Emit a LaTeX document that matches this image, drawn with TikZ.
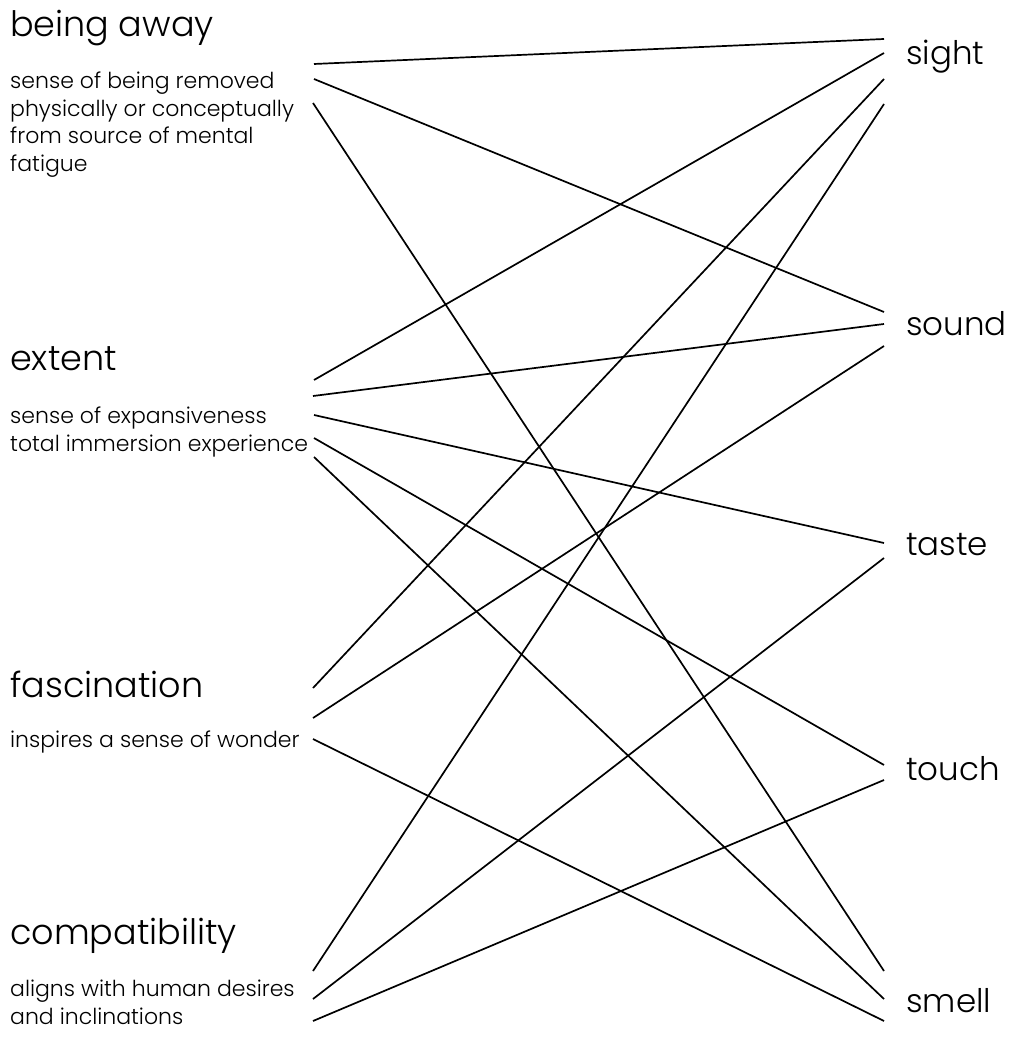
\documentclass[tikz,border=0pt]{standalone}
\usepackage{fontspec}
\setmainfont{Poppins}[UprightFont={* Light}]
\begin{document}
\begin{tikzpicture}[x=1pt,y=-1pt]

\tikzset{head/.style={anchor=base west,inner sep=0pt,font=\fontsize{35}{40}\selectfont},
    desc/.style={anchor=north west,inner sep=0pt,align=left,font=\fontsize{22}{27.5}\selectfont},
    sense/.style={anchor=base west,inner sep=0pt,font=\fontsize{32.5}{36}\selectfont},
    link/.style={black,line width=1.7pt}}

\useasboundingbox (0,0) rectangle (1009,1040);

\path (10,37) node[head] (away) {being away};
\path (10,72) node[desc] (awaytxt) {sense of being removed\\physically or conceptually\\from source of mental\\fatigue};

\path (10,370) node[head] (extent) {extent};
\path (10,407) node[desc] (extenttxt) {sense of expansiveness\\total immersion experience};

\path (10,697) node[head] (fasc) {fascination};
\path (10,731) node[desc] (fasctxt) {inspires a sense of wonder};

\path (10,944) node[head] (compat) {compatibility};
\path (10,980) node[desc] (compattxt) {aligns with human desires\\and inclinations};

\path (906,65) node[sense] (sight) {sight};
\path (906,335) node[sense] (sound) {sound};
\path (906,555) node[sense] (taste) {taste};
\path (906,780) node[sense] (touch) {touch};
\path (906,1012) node[sense] (smell) {smell};

\coordinate (a1) at (314,64);
\coordinate (a2) at (314,79);
\coordinate (a3) at (313,103);
\coordinate (e1) at (314,380);
\coordinate (e2) at (313,396);
\coordinate (e3) at (314,415);
\coordinate (e4) at (314,438);
\coordinate (e5) at (314,457);
\coordinate (f1) at (313,688);
\coordinate (f2) at (313,718);
\coordinate (f3) at (313,739);
\coordinate (c1) at (313,971);
\coordinate (c2) at (313,999);
\coordinate (c3) at (313,1021);

\coordinate (si1) at (884,39);
\coordinate (si2) at (884,53);
\coordinate (si3) at (884,79);
\coordinate (si4) at (884,104);
\coordinate (so1) at (884,312);
\coordinate (so2) at (884,324);
\coordinate (so3) at (884,346);
\coordinate (ta1) at (884,543);
\coordinate (ta2) at (884,558);
\coordinate (to1) at (884,765);
\coordinate (to2) at (884,780);
\coordinate (sm1) at (884,971);
\coordinate (sm2) at (884,999);
\coordinate (sm3) at (884,1021);

\foreach \a/\b in {a1/si1,a2/so1,a3/sm1,e1/si2,e2/so2,e3/ta1,e4/to1,e5/sm2,
    f1/si3,f2/so3,f3/sm3,c1/si4,c2/ta2,c3/to2}
{
    \draw[link] (\a)--(\b);
}

\end{tikzpicture}
\end{document}
